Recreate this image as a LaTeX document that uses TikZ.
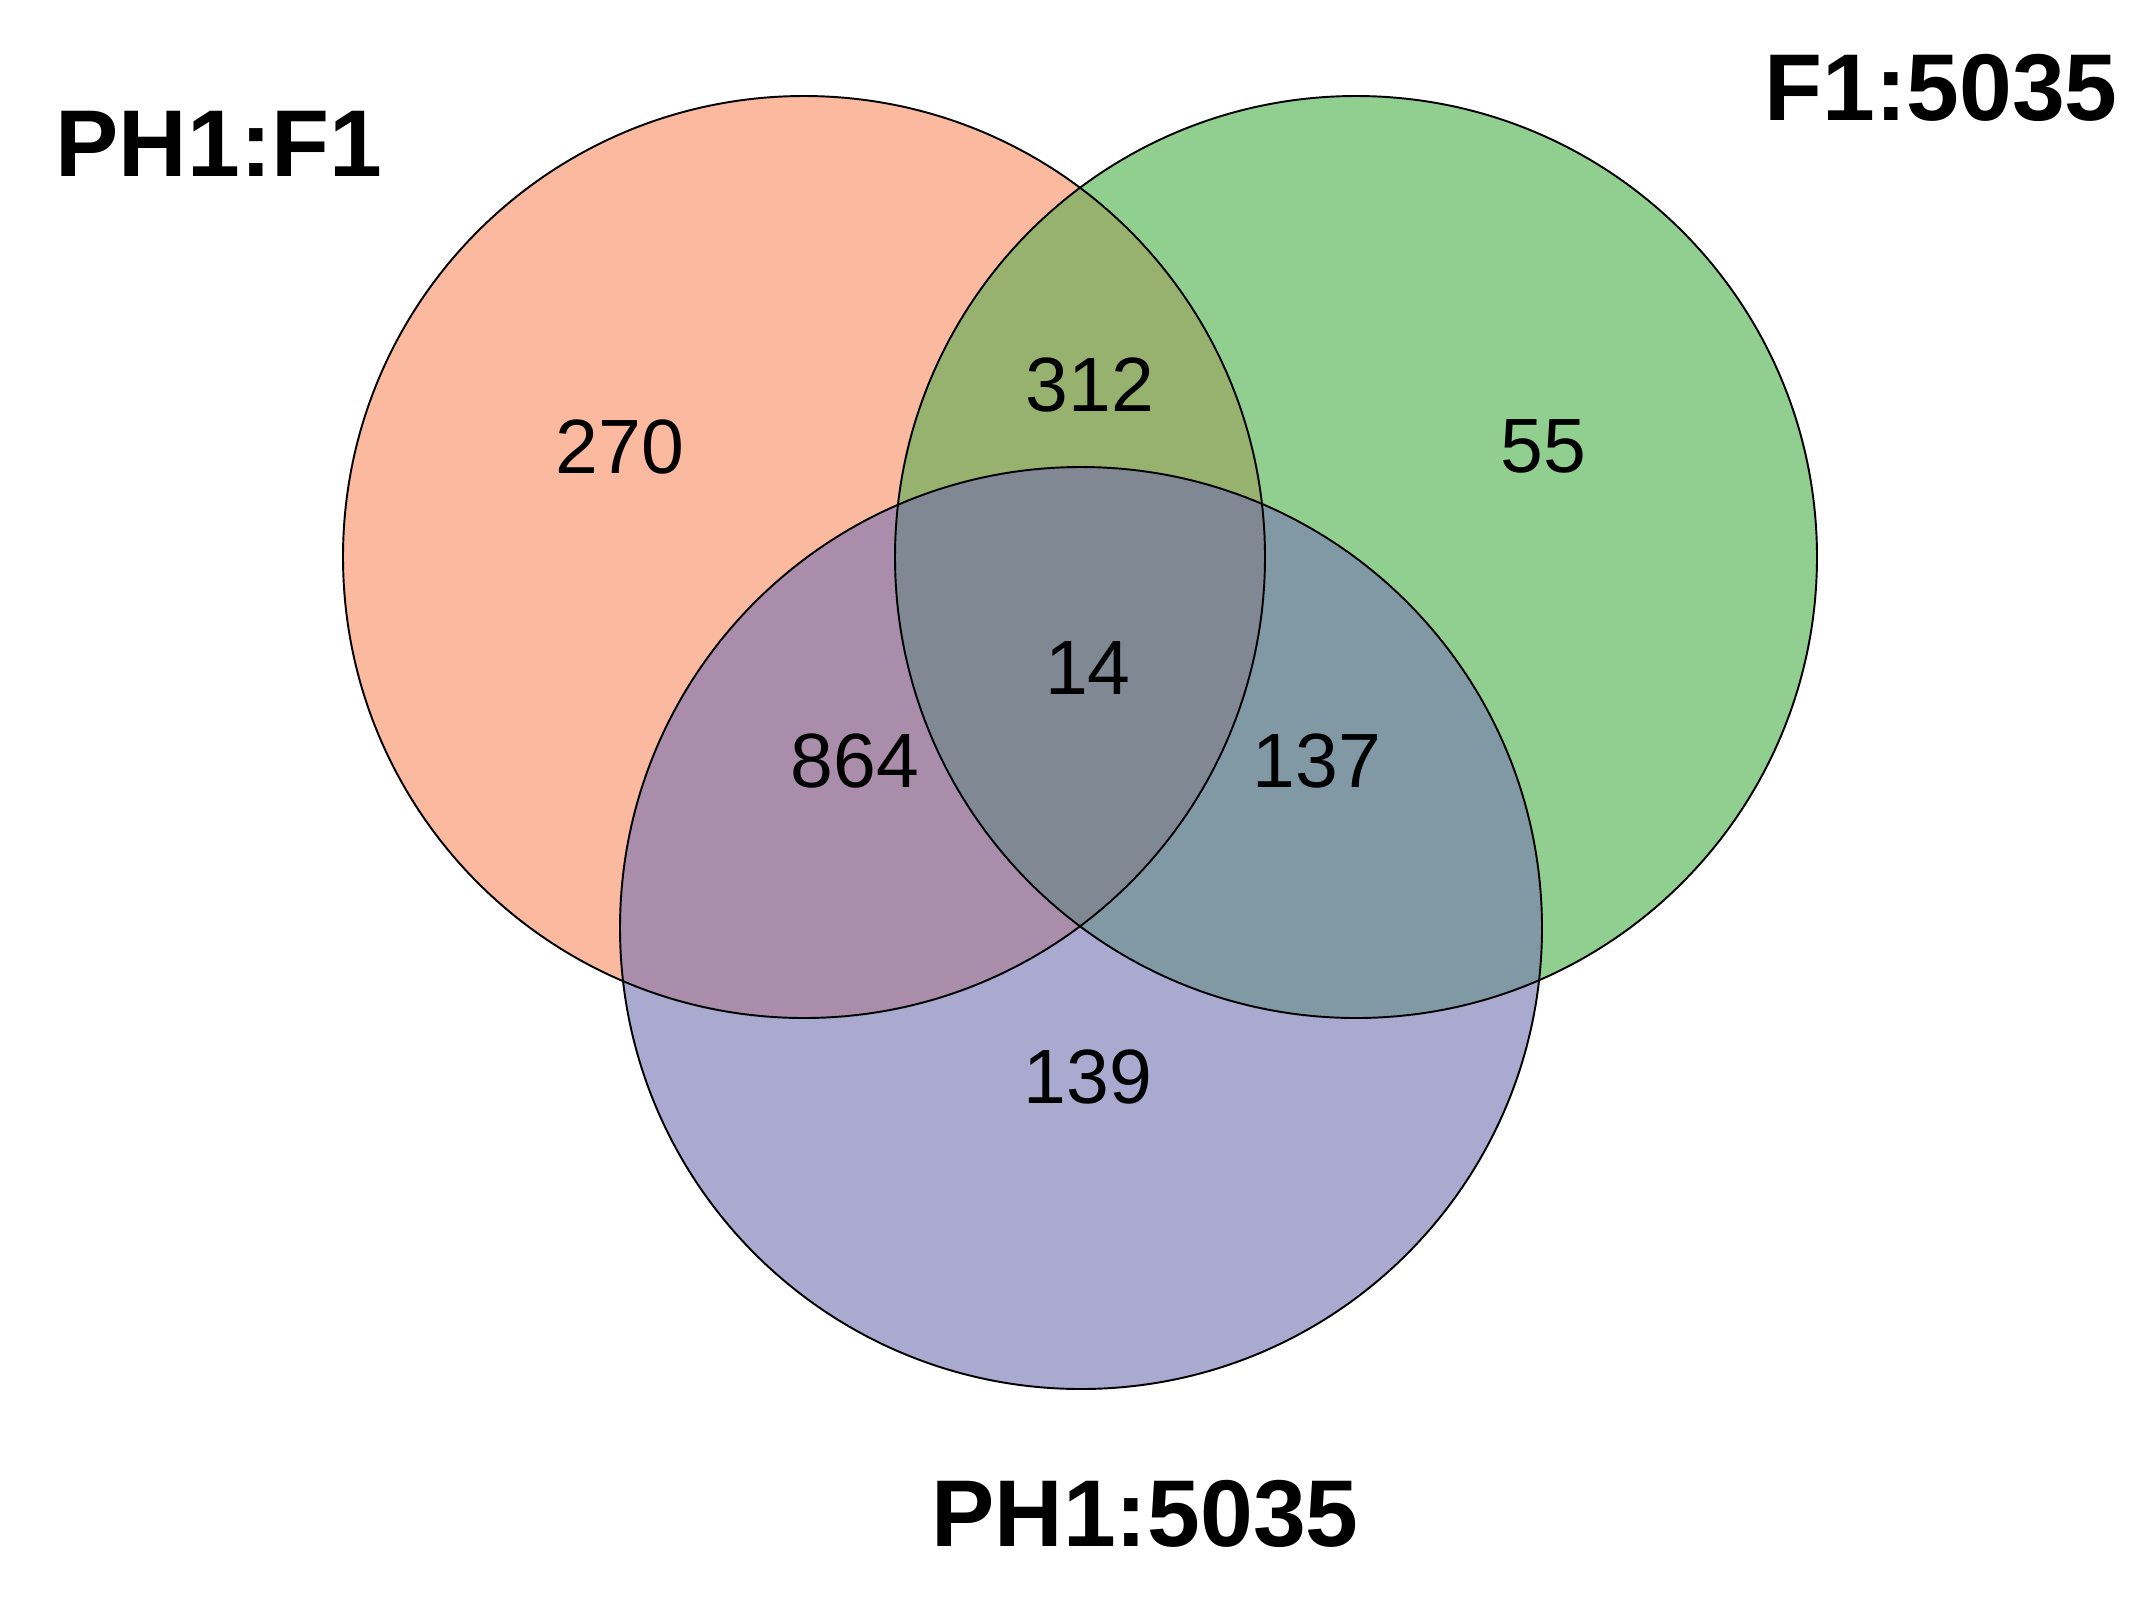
\documentclass[tikz,border=0pt]{standalone}
\usepackage{fontspec}
\setmainfont{Liberation Sans}
\definecolor{cR}{HTML}{FBBAA0}
\definecolor{cG}{HTML}{91CF90}
\definecolor{cB}{HTML}{AAA9D0}
\definecolor{cRG}{HTML}{97B26E}
\definecolor{cRB}{HTML}{A98DAB}
\definecolor{cGB}{HTML}{8199A4}
\definecolor{cRGB}{HTML}{808893}
\tikzset{
  num/.style={inner sep=0pt, font=\fontsize{43.8}{50}\selectfont},
  setlabel/.style={inner sep=0pt, font=\fontsize{54}{60}\selectfont\bfseries},
  rim/.style={draw=black, line width=1.1pt}
}
\begin{document}
\begin{tikzpicture}[x=0.02cm, y=-0.02cm]
\useasboundingbox (0,0) rectangle (2151,1614);
\fill[white] (0,0) rectangle (2151,1614);
\def\R{461}
\coordinate (cr) at (804,557);
\coordinate (cg) at (1356,557);
\coordinate (cb) at (1081,928);
\fill[cR] (cr) circle (\R);
\fill[cG] (cg) circle (\R);
\fill[cB] (cb) circle (\R);
\begin{scope}
  \clip (cr) circle (\R);
  \fill[cRG] (cg) circle (\R);
  \fill[cRB] (cb) circle (\R);
\end{scope}
\begin{scope}
  \clip (cg) circle (\R);
  \fill[cGB] (cb) circle (\R);
\end{scope}
\begin{scope}
  \clip (cr) circle (\R);
  \clip (cg) circle (\R);
  \fill[cRGB] (cb) circle (\R);
\end{scope}
\draw[rim] (cr) circle (\R);
\draw[rim] (cg) circle (\R);
\draw[rim] (cb) circle (\R);
\node[num] (n270) at (620,447) {270};
\node[num] (n312) at (1090,385) {312};
\node[num] (n55) at (1543,446) {55};
\node[num] (n14) at (1088,668) {14};
\node[num] (n864) at (855,761) {864};
\node[num] (n137) at (1317,761) {137};
\node[num] (n139) at (1088,1077) {139};
\node[setlabel] (lPF) at (219,144) {PH1:F1};
\node[setlabel] (lF5) at (1941,88) {F1:5035};
\node[setlabel] (lP5) at (1145,1514) {PH1:5035};
\end{tikzpicture}
\end{document}
